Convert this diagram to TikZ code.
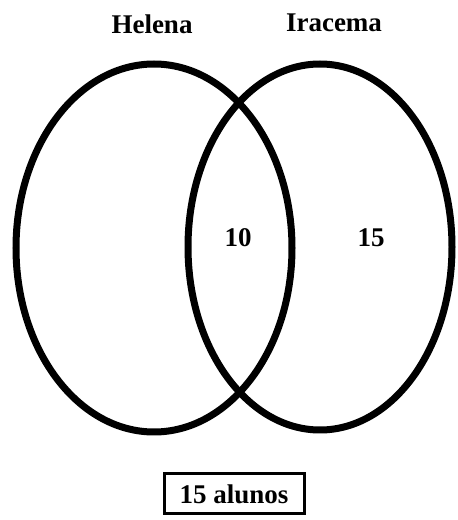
\documentclass[tikz,border=0pt]{standalone}
\usepackage{fontspec}
\setmainfont{Liberation Serif}
\begin{document}
\begin{tikzpicture}[x=1pt,y=1pt,
  ring/.style={line width=7pt},
  lbl/.style={font=\fontsize{27}{30}\selectfont\bfseries, anchor=base, inner sep=0pt},
  boxed/.style={draw, line width=3pt, minimum width=140pt, minimum height=40pt, inner sep=0pt, font=\fontsize{27}{30}\selectfont\bfseries}]
\useasboundingbox (0,0) rectangle (458,520);
\draw[ring] (154,272) ellipse [x radius=138, y radius=184];
\draw[ring] (320,273) ellipse [x radius=132, y radius=183];
\node[lbl] (helena) at (152,486) {Helena};
\node[lbl] (iracema) at (334,488) {Iracema};
\node[lbl] (ten) at (238,273) {10};
\node[lbl] (fifteen) at (371,273) {15};
\node[boxed] (total) at (234,26) {15 alunos};
\end{tikzpicture}
\end{document}
